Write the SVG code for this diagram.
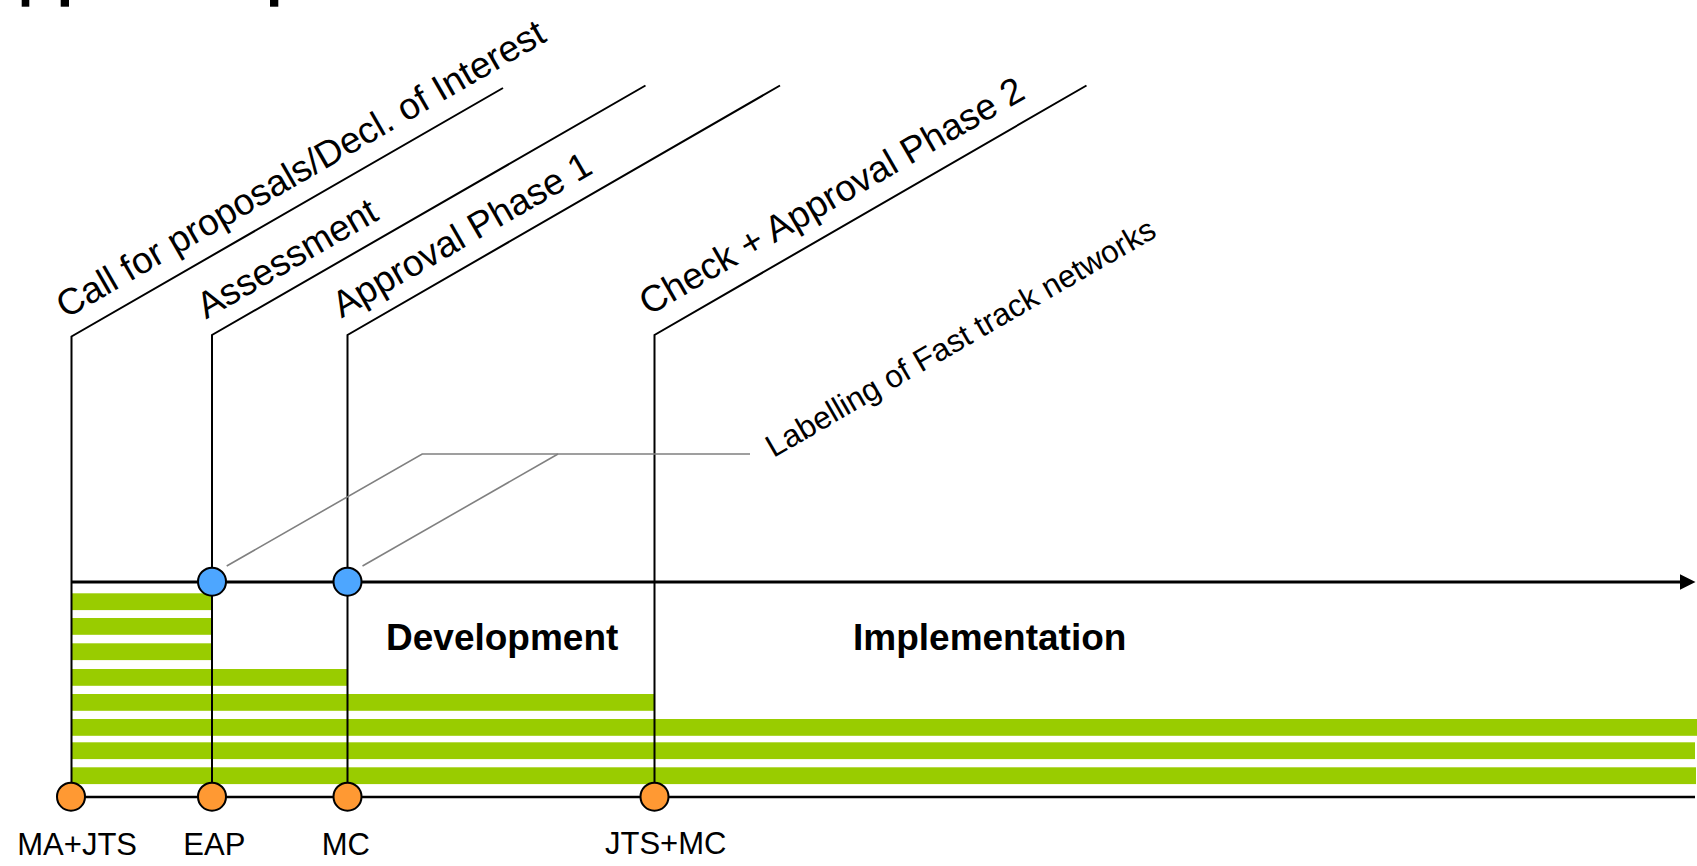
<svg xmlns="http://www.w3.org/2000/svg" width="1697" height="866" viewBox="0 0 1697 866">
<style>
.bar{fill:#99CC00}
.ln{stroke:#000;stroke-width:2;fill:none}
.gl{stroke:#808080;stroke-width:1.6;fill:none}
.or{fill:#FF9933;stroke:#000;stroke-width:2}
.bl{fill:#4DA6FF;stroke:#000;stroke-width:2}
.rt{font-family:"Liberation Sans",Arial,sans-serif;font-size:37px;fill:#000}
.ms{font-family:"Liberation Sans",Arial,sans-serif;font-size:31px;fill:#000}
.lb{font-family:"Liberation Sans",Arial,sans-serif;font-size:31.6px;fill:#000}
.ph{font-family:"Liberation Sans",Arial,sans-serif;font-size:37px;font-weight:bold;fill:#000}
</style>
<rect width="1697" height="866" fill="#fff"/>
<g id="title-fragments" fill="#000">
<rect x="21.7" y="0" width="7.6" height="6.7"/>
<rect x="60.7" y="0" width="8.3" height="6.7"/>
<rect x="270" y="0" width="8.3" height="6.7"/>
</g>
<g id="bars">
<rect class="bar" x="71" y="593.3" width="140" height="16.8"/>
<rect class="bar" x="71" y="618" width="140" height="16.8"/>
<rect class="bar" x="71" y="643.3" width="140" height="16.8"/>
<rect class="bar" x="71" y="669" width="276" height="16.8"/>
<rect class="bar" x="71" y="694" width="583" height="16.8"/>
<rect class="bar" x="71" y="719" width="1626" height="16.8"/>
<rect class="bar" x="71" y="742.3" width="1624" height="16.8"/>
<rect class="bar" x="71" y="767.3" width="1625" height="16.8"/>
</g>
<g id="connectors">
<polyline class="ln" points="503,88 71.5,336.5 71.5,797"/>
<polyline class="ln" points="645.5,85.5 212,335 212,797"/>
<polyline class="ln" points="780,85.5 347.5,335 347.5,797"/>
<polyline class="ln" points="1086.5,85.5 654.5,335 654.5,797"/>
<polyline class="gl" points="226.7,566 422.2,454 750,454"/>
<line class="gl" x1="362.5" y1="566" x2="558" y2="454"/>
<line x1="71" y1="582" x2="1682" y2="582" stroke="#000" stroke-width="3"/>
<polygon points="1680,574.3 1695.5,582 1680,589.7" fill="#000"/>
<line x1="71" y1="797" x2="1695" y2="797" stroke="#000" stroke-width="2.5"/>
</g>
<g id="phase-labels">
<text class="rt" transform="translate(65.5,319) rotate(-30)">Call for proposals/Decl. of Interest</text>
<text class="rt" transform="translate(206,319.5) rotate(-30)">Assessment</text>
<text class="rt" transform="translate(341.5,318.5) rotate(-30)">Approval Phase 1</text>
<text class="rt" transform="translate(648.5,316) rotate(-30)">Check + Approval Phase 2</text>
<text class="lb" transform="translate(773.5,458) rotate(-30)">Labelling of Fast track networks</text>
</g>
<g id="milestone-ma-jts">
<circle class="or" cx="71" cy="796.7" r="14"/>
<text class="ms" x="17.3" y="855">MA+JTS</text>
</g>
<g id="milestone-eap">
<circle class="or" cx="212" cy="796.7" r="14"/>
<circle class="bl" cx="212" cy="581.7" r="14"/>
<text class="ms" x="183.3" y="855">EAP</text>
</g>
<g id="milestone-mc">
<circle class="or" cx="347.5" cy="796.7" r="14"/>
<circle class="bl" cx="347.5" cy="581.7" r="14"/>
<text class="ms" x="321.7" y="855">MC</text>
</g>
<g id="milestone-jts-mc">
<circle class="or" cx="654.5" cy="796.7" r="14"/>
<text class="ms" x="605" y="853.5">JTS+MC</text>
</g>
<g id="phase-development">
<text class="ph" x="386" y="650">Development</text>
</g>
<g id="phase-implementation">
<text class="ph" x="853" y="650">Implementation</text>
</g>
</svg>
